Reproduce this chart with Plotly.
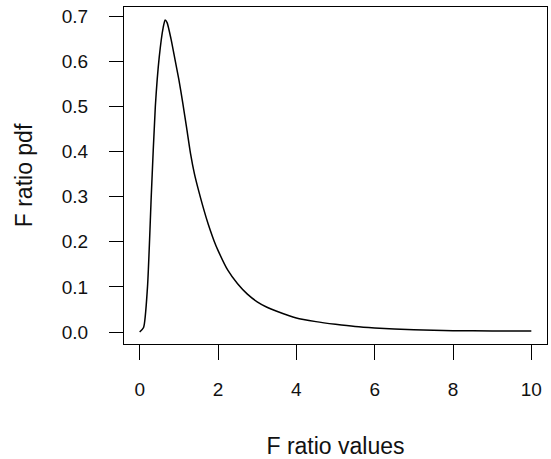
import plotly.graph_objects as go

# Values
f_values = [0, 0.1, 0.2, 0.3, 0.4, 0.5, 0.6, 0.65, 0.7, 0.8, 0.9, 1.0, 1.1, 1.2,
            1.3, 1.4, 1.5, 1.6, 1.7, 1.8, 1.9, 2.0, 2.25, 2.5, 2.75, 3.0, 3.25,
            3.5, 4.0, 4.5, 5.0, 5.5, 6.0, 7.0, 7.5, 8.0, 9.0, 10.0]
pdf_values = [0.0, 0.01, 0.10, 0.31, 0.50, 0.61, 0.675, 0.692, 0.686, 0.65, 0.605,
              0.56, 0.508, 0.452, 0.395, 0.350, 0.315, 0.283, 0.253, 0.226, 0.202,
              0.181, 0.137, 0.107, 0.084, 0.067, 0.055, 0.046, 0.031, 0.023,
              0.017, 0.012, 0.009, 0.005, 0.004, 0.003, 0.0025, 0.002]

x_ticks = [0, 2, 4, 6, 8, 10]
y_ticks = [0.0, 0.1, 0.2, 0.3, 0.4, 0.5, 0.6, 0.7]

fig = go.Figure()
fig.add_trace(go.Scatter(
    x=f_values, y=pdf_values, mode="lines",
    line=dict(color="black", width=1.5, shape="spline", smoothing=0.6),
    showlegend=False, hoverinfo="x+y"))

font = dict(family="Arial", size=19, color="#111111")

fig.update_layout(
    width=551, height=459,
    margin=dict(l=124, r=4, t=7, b=115),
    paper_bgcolor="white", plot_bgcolor="white",
    font=font,
    xaxis=dict(
        range=[-0.4, 10.4], tickvals=x_ticks, ticktext=[str(v) for v in x_ticks],
        showgrid=False, zeroline=False, showline=True, mirror=True,
        linecolor="black", linewidth=1, automargin=False,
        ticks="outside", ticklen=15, tickcolor="black", tickwidth=1,
        ticklabelstandoff=13,
        title=dict(text="F ratio values", standoff=40),
    ),
    yaxis=dict(
        range=[-0.0266, 0.7206], tickvals=y_ticks,
        ticktext=[f"{v:.1f}" for v in y_ticks],
        showgrid=False, zeroline=False, showline=True, mirror=True,
        linecolor="black", linewidth=1, automargin=False,
        ticks="outside", ticklen=14, tickcolor="black", tickwidth=1,
        ticklabelstandoff=17,
        title=dict(text="F ratio pdf", standoff=22),
    ),
)

fig.write_html(
    "out.html",
    config={"displayModeBar": False},
    post_script="document.body.style.margin='0';document.body.style.overflow='hidden';",
)
